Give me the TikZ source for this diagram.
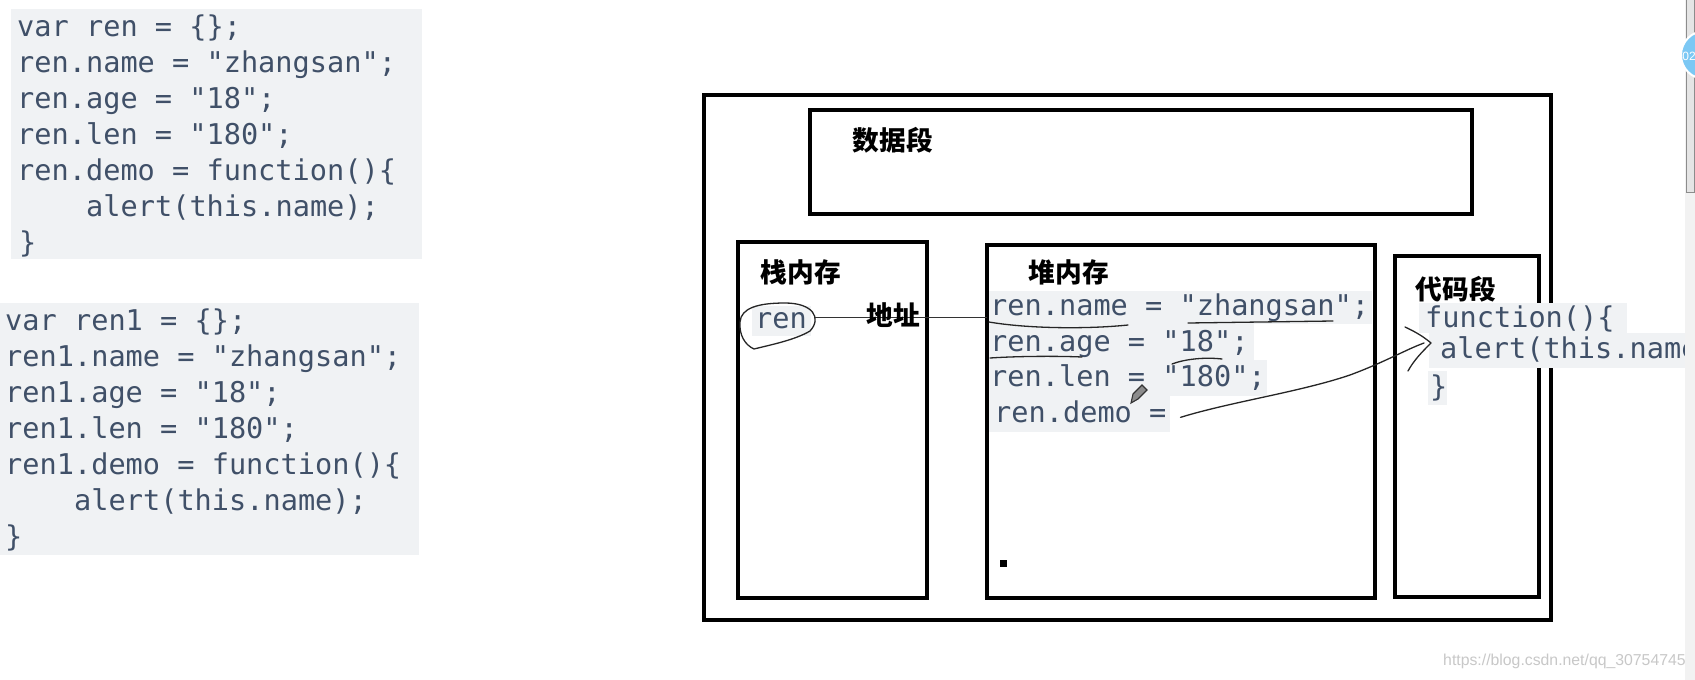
\documentclass[tikz,border=0pt]{standalone}
\usepackage{fontspec}
\setmainfont{DejaVu Sans}
\setmonofont{DejaVu Sans Mono}
\newfontfamily\cnfont{Noto Sans CJK SC}
\newfontfamily\wmfont{Liberation Sans}
\definecolor{codetext}{HTML}{405068}
\definecolor{codebg}{HTML}{F0F2F4}
\definecolor{wmgray}{HTML}{C8C8C8}
\definecolor{bluedot}{HTML}{7CC8F4}
\tikzset{
  code/.style={font=\ttfamily\fontsize{28.6}{34}\selectfont, text=codetext, anchor=base west, inner sep=0pt},
  cn/.style={font=\cnfont\bfseries\fontsize{26.7}{30}\selectfont, anchor=center, inner sep=0pt},
  membox/.style={draw=black, line width=4.5pt, anchor=north west, inner sep=0pt, outer sep=0pt},
  bgrow/.style={fill=codebg, draw=none},
  hand/.style={draw=black!85, line width=1.3pt, line cap=round, line join=round},
  link/.style={draw=black!80, line width=1pt},
}
\begin{document}
\begin{tikzpicture}[x=1pt,y=-1pt]
\useasboundingbox[fill=white] (0,0) rectangle (1695,680);

% ---------- left code block 1 ----------
\fill[bgrow] (11,9) rectangle (422,259);
\node[code] (a1) at (17,36)  {var ren = \{\};};
\node[code] (a2) at (17,72)  {ren.name = "zhangsan";};
\node[code] (a3) at (17,108) {ren.age = "18";};
\node[code] (a4) at (17,144) {ren.len = "180";};
\node[code] (a5) at (17,180) {ren.demo = function()\{};
\node[code] (a6) at (86,216) {alert(this.name);};
\node[code] (a7) at (19,252) {\}};

% ---------- left code block 2 ----------
\fill[bgrow] (0,303) rectangle (419,555);
\node[code] (b1) at (5,330) {var ren1 = \{\};};
\node[code] (b2) at (5,366) {ren1.name = "zhangsan";};
\node[code] (b3) at (5,402) {ren1.age = "18";};
\node[code] (b4) at (5,438) {ren1.len = "180";};
\node[code] (b5) at (5,474) {ren1.demo = function()\{};
\node[code] (b6) at (74,510) {alert(this.name);};
\node[code] (b7) at (5,546) {\}};

% ---------- heap row backgrounds (under the box border) ----------
\fill[bgrow] (986,291) rectangle (1372,324);
\fill[bgrow] (986,324) rectangle (1254,360);
\fill[bgrow] (986,360) rectangle (1267,396);
\fill[bgrow] (986,396) rectangle (1170,432);
\fill[bgrow] (752,306) rectangle (811,336);

% ---------- memory boxes ----------
\node[membox, minimum width=847pt, minimum height=525pt] (outer) at (704,95) {};
\node[membox, minimum width=662pt, minimum height=104pt] (data) at (810,110) {};
\node[membox, minimum width=189pt, minimum height=356pt] (stack) at (738,242) {};
\node[membox, minimum width=388pt, minimum height=353pt] (heap) at (987,245) {};
\node[membox, minimum width=144pt, minimum height=341pt] (codeseg) at (1395,256) {};

\node[cn] (ldata)  at (893,140)  {数据段};
\node[cn] (lstack) at (801,272)  {栈内存};
\node[cn] (lheap)  at (1069,272) {堆内存};
\node[cn] (lcode)  at (1456,289) {代码段};

% ---------- stack content ----------
\node[code] (sren) at (755,328) {ren};
\draw[hand] (810,331) .. controls (822,318) and (813,303) .. (785,303)
            .. controls (758,303) and (741,308) .. (740,322)
            .. controls (739,335) and (745,345) .. (754,349)
            .. controls (770,345) and (795,340) .. (810,331);
\coordinate (renR) at (815,317);
\draw[link] (renR) -- (renR -| heap.west);
\node[cn] (addr) at (893,315) {地址};

% ---------- heap content ----------
\node[code] (h1) at (990,315) {ren.name = "zhangsan";};
\node[code] (h2) at (990,351) {ren.age = "18";};
\node[code] (h3) at (990,386) {ren.len = "180";};
\node[code] (h4) at (994,422) {ren.demo =};
\fill (1000,560) rectangle (1007,567);

\draw[hand] (989,322) .. controls (1030,329) and (1090,329) .. (1128,325);
\draw[hand] (1188,323) -- (1333,321);
\draw[hand] (990,358) .. controls (1020,356) and (1060,356) .. (1082,357);
\draw[hand] (1172,364) .. controls (1185,359) and (1205,357) .. (1222,359);
% pencil cursor
\filldraw[fill=black!45, draw=black!80, line width=1.1pt] (1131,403) -- (1133,394) -- (1142,385) -- (1147,390) -- (1138,399) -- cycle;

% ---------- code segment content ----------
\fill[bgrow] (1419,303) rectangle (1627,333);
\fill[bgrow] (1429,333) rectangle (1695,368);
\fill[bgrow] (1428,371) rectangle (1447,405);
\node[code] (c1) at (1425,327) {function()\{};
\node[code] (c2) at (1440,358) {alert(this.name);};
\node[code] (c3) at (1430,396) {\}};

% ---------- hand-drawn pointer from ren.demo to code ----------
\coordinate (tip) at (1431,343);
\draw[hand] ([xshift=14pt,yshift=-6pt]h4.east) .. controls (1230,402) and (1300,392) .. (1350,375)
            .. controls (1385,362) and (1405,350) .. (1424,343);
\draw[hand] (1405,327) .. controls (1418,333) and (1425,338) .. (tip)
            .. controls (1422,352) and (1414,360) .. (1408,371);

% ---------- screen artefacts ----------
\fill[black!5] (1685,0) rectangle (1695,680);
\filldraw[fill=black!10, draw=black!45, line width=0.8pt] (1686,-2) rectangle (1694,192);
\filldraw[fill=bluedot, draw=white, line width=2pt] (1705,55) circle (24);
\node[font=\wmfont\fontsize{12}{12}\selectfont, text=white, inner sep=0pt] (badge) at (1689,56) {02};
\node[font=\wmfont\fontsize{15.8}{16}\selectfont, text=wmgray, anchor=west, inner sep=0pt] (wm) at (1443,661) {https://blog.csdn.net/qq\_30754745};
\end{tikzpicture}
\end{document}
